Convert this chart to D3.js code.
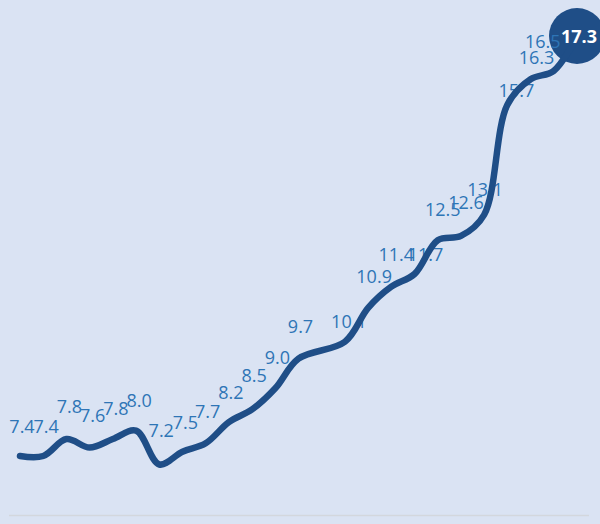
<!DOCTYPE html>
<html>
<head>
<meta charset="utf-8">
<script src="https://cdn.jsdelivr.net/npm/d3@7"></script>
<style>
  html, body { margin: 0; padding: 0; background: #dae3f3; }
  svg { display: block; }
</style>
</head>
<body>
<div id="chart"></div>
<script>
(function(){

// period number of each observation (period 13 has no value)
var periods = [0, 1, 2, 3, 4, 5, 6, 7, 8, 9, 10, 11, 12,
               14, 15, 16, 17, 18, 19, 20, 21, 22, 23, 24];
var values = [7.4, 7.4, 7.8, 7.6, 7.8, 8.0, 7.2, 7.5, 7.7, 8.2, 8.5, 9.0,
              9.7, 10.1, 10.9, 11.4, 11.7, 12.5, 12.6, 13.1, 15.7, 16.3, 16.5, 17.3];

// label nudges [dx, dy] from the point, as the labels sit in the original
var labelNudge = [[2,-23],[3,-23],[3,-26],[3,-26],[3,-24],[3,-24],[2,-27],[3,-23],
                  [2,-25],[2,-23],[2,-27],[2,-24],[2,-26],[4,-14],[6,-25],[5,-26],
                  [11,-13],[5,-24],[5,-27],[1,-19],[9,-8],[6,-15],[-11,-23]];

var width = 600, height = 524;

var svg = d3.select("#chart")
  .append("svg")
    .attr("width", width)
    .attr("height", height);

svg.append("rect")
    .attr("width", width)
    .attr("height", height)
    .attr("fill", "#dae3f3");

var x = d3.scaleLinear()
    .domain([0, 24])
    .range([20, 577]);

var y = d3.scaleLinear()
    .domain([7.4, 17.3])
    .range([456, 37]);

// bottom axis line
svg.append("line")
    .attr("x1", 9).attr("x2", 589)
    .attr("y1", 515.5).attr("y2", 515.5)
    .attr("stroke", "#d3d7dd")
    .attr("stroke-width", 1.5);

var pts = values.map(function(v, i){ return {t: periods[i], v: v}; });
var last = pts.length - 1;

//big marker on the last point (same colour as the line)
svg.append("circle")
    .attr("cx", x(pts[last].t))
    .attr("cy", y(pts[last].v) - 1)
    .attr("r", 28)
    .attr("fill", "#1f4e87");

//data labels (all but the last), drawn under the line
svg.selectAll("text.lbl")
  .data(pts.slice(0, last))
  .enter()
  .append("text")
    .attr("class", "lbl")
    .attr("x", function(d, i){ return x(d.t) + labelNudge[i][0]; })
    .attr("y", function(d, i){ return y(d.v) + labelNudge[i][1]; })
    .attr("text-anchor", "middle")
    .attr("font-family", "'Open Sans', sans-serif")
    .attr("font-size", "18px")
    .attr("fill", "#2e75b6")
    .text(function(d){ return d.v.toFixed(1); });

var line = d3.line()
    .x(function(d){ return x(d.t); })
    .y(function(d){ return y(d.v); })
    .curve(d3.curveCatmullRom.alpha(0.5));

svg.append("path")
    .datum(pts)
    .attr("d", line)
    .attr("fill", "none")
    .attr("stroke", "#1f4e87")
    .attr("stroke-width", 6.5)
    .attr("stroke-linecap", "round");

svg.append("text")
    .attr("x", x(pts[last].t) + 2)
    .attr("y", y(pts[last].v) + 6)
    .attr("text-anchor", "middle")
    .attr("font-family", "'Open Sans', sans-serif")
    .attr("font-weight", "bold")
    .attr("font-size", "18px")
    .attr("fill", "white")
    .text(pts[last].v.toFixed(1));

})();
</script>
</body>
</html>
